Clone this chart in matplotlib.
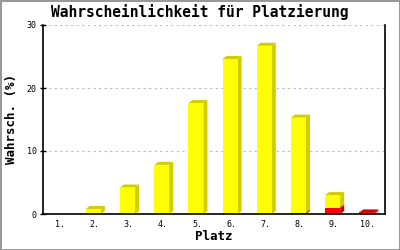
import matplotlib
matplotlib.use("Agg")
import matplotlib.pyplot as plt
from matplotlib.patches import Polygon
import numpy as np

# ================== Daten ==================
plaetze = ["1.", "2.", "3.", "4.", "5.", "6.", "7.", "8.", "9.", "10."]
rot = [0.0, 0.0, 0.0, 0.0, 0.0, 0.0, 0.0, 0.2, 1.0, 0.25]
gelb = [0.0, 0.8, 4.2, 7.8, 17.6, 24.6, 26.7, 15.1, 2.0, 0.0]
y_ticks = [0, 10, 20, 30]

FONT = "DejaVu Sans Mono"

fig = plt.figure(figsize=(4, 2.5), dpi=100)
fig.patch.set_facecolor("white")
fig.patch.set_edgecolor("#999999")
fig.patch.set_linewidth(2)

ax = fig.add_axes([0.1075, 0.144, 0.855, 0.756])
x = np.arange(1, len(plaetze) + 1)
breite = 0.44

# Pixel -> Daten fuer den 3D-Effekt
ax.set_xlim(0.5, 10.5)
ax.set_ylim(0, 30)
ax_w = 0.855 * 400
ax_h = 0.756 * 250
dx = 4 * 10 / ax_w
dy = 3 * 30 / ax_h

def balken_3d(xc, unten, hoehe, farbe, seite):
    if hoehe <= 0:
        return
    l = xc - breite / 2 - 0.03
    r = l + breite
    o = unten + hoehe
    ax.add_patch(Polygon([(r, unten), (r + dx, unten + dy), (r + dx, o + dy), (r, o)],
                         closed=True, facecolor=seite, edgecolor="none", zorder=3))
    ax.add_patch(Polygon([(l, o), (l + dx, o + dy), (r + dx, o + dy), (r, o)],
                         closed=True, facecolor=seite, edgecolor="none", zorder=3))
    ax.add_patch(Polygon([(l, unten), (r, unten), (r, o), (l, o)],
                         closed=True, facecolor=farbe, edgecolor="none", zorder=4))

for i in range(len(x)):
    balken_3d(x[i], 0, rot[i], "#ff0000", "#cc0000")
    balken_3d(x[i], rot[i], gelb[i], "#ffff00", "#d0cc00")

ax.set_xticks(x)
ax.set_xticklabels(plaetze, fontsize=6, family=FONT)
ax.set_yticks(y_ticks)
ax.set_yticklabels([str(t) for t in y_ticks], fontsize=6, family=FONT)
ax.tick_params(axis="x", length=0, pad=4)
ax.tick_params(axis="y", length=5, width=1, direction="inout", pad=2)

ax.grid(axis="y", color="#bbbbbb", linestyle=(0, (2, 3)), linewidth=0.8, zorder=0)
ax.set_axisbelow(True)
for s in ["left", "bottom", "right"]:
    ax.spines[s].set_color("black")
    ax.spines[s].set_linewidth(1.2)
ax.spines["top"].set_visible(False)
ax.spines["bottom"].set_zorder(5)

fig.text(0.5, 0.93, "Wahrscheinlichkeit für Platzierung", fontsize=10.5, family=FONT,
         fontweight="bold", ha="center", va="baseline")
ax.set_xlabel("Platz", fontsize=9, family=FONT, fontweight="bold", labelpad=1)
ax.set_ylabel("Wahrsch. (%)", fontsize=9, family=FONT, fontweight="bold", labelpad=6)

fig.savefig("out.png", dpi=100, facecolor=fig.get_facecolor(), edgecolor=fig.get_edgecolor())
